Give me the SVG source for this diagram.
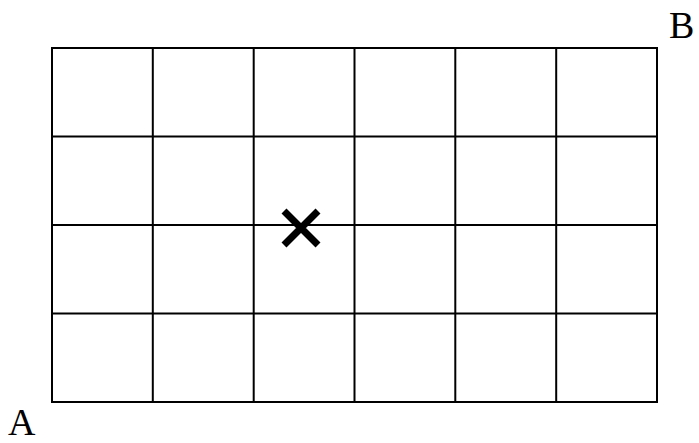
<svg xmlns="http://www.w3.org/2000/svg" width="699" height="443" viewBox="0 0 699 443">
<style>
.grid{stroke:#000;stroke-width:2;fill:none}
.lbl{font-family:"Liberation Serif",serif;font-size:38px;fill:#000}
.mark{stroke:#000;stroke-width:7;fill:none}
</style>
<rect width="699" height="443" fill="#fff"/>
<g id="grid">
<rect class="grid" x="52" y="48" width="605" height="354"/>
<path class="grid" d="M152.8 48V402M253.7 48V402M354.5 48V402M455.3 48V402M556.2 48V402M52 136.5H657M52 225H657M52 313.5H657"/>
</g>
<g id="mark"><path class="mark" d="M284 211L318 245M318 211L284 245"/></g>
<g id="labelB"><text class="lbl" x="669" y="38">B</text></g>
<g id="labelA"><text class="lbl" x="8" y="435">A</text></g>
</svg>
